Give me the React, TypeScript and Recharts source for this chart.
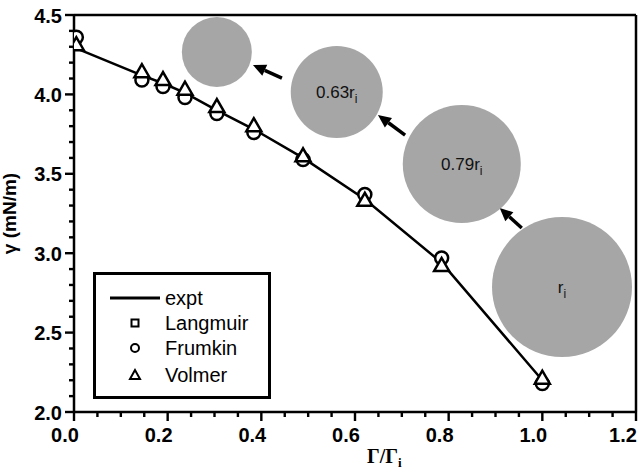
import {
  ComposedChart,
  Line,
  Scatter,
  XAxis,
  YAxis,
  ReferenceLine,
  ReferenceDot,
  Legend,
} from 'recharts';

// surface coverage Γ/Γi
const coverage = [0.005, 0.145, 0.19, 0.237, 0.305, 0.384, 0.489, 0.621, 0.785, 1.0];
// surface tension γ (mN/m)
const expt = [4.29, 4.12, 4.07, 4.01, 3.9, 3.78, 3.6, 3.34, 2.94, 2.2];
const langmuir = [4.35, 4.09, 4.05, 3.98, 3.88, 3.76, 3.59, 3.36, 2.97, 2.18];
const frumkin = [4.36, 4.09, 4.05, 3.98, 3.88, 3.76, 3.59, 3.37, 2.97, 2.18];
const volmer = [4.31, 4.14, 4.09, 4.03, 3.92, 3.8, 3.61, 3.33, 2.92, 2.21];

const xTicks = [
  0, 0.05, 0.1, 0.15, 0.2, 0.25, 0.3, 0.35, 0.4, 0.45, 0.5, 0.55, 0.6,
  0.65, 0.7, 0.75, 0.8, 0.85, 0.9, 0.95, 1.0, 1.05, 1.1, 1.15, 1.2,
];
const yTicks = [
  2.0, 2.1, 2.2, 2.3, 2.4, 2.5, 2.6, 2.7, 2.8, 2.9, 3.0, 3.1, 3.2, 3.3,
  3.4, 3.5, 3.6, 3.7, 3.8, 3.9, 4.0, 4.1, 4.2, 4.3, 4.4, 4.5,
];

// shrinking droplet sketch: centre (x, y), pixel radius, label
const bubbleX = [0.305, 0.561, 0.828, 1.042];
const bubbleY = [4.267, 4.015, 3.562, 2.787];
const bubbleR = [35, 46, 59, 70];
const bubbleLabel = ['', '0.63r', '0.79r', 'r'];

// arrows between droplets: tail -> head
const arrowTail = [
  { x: 0.444, y: 4.103 },
  { x: 0.707, y: 3.744 },
  { x: 0.956, y: 3.159 },
];
const arrowHead = [
  { x: 0.382, y: 4.185 },
  { x: 0.649, y: 3.87 },
  { x: 0.909, y: 3.285 },
];

const rows = coverage.map((x, i) => ({
  x,
  expt: expt[i],
  langmuir: langmuir[i],
  frumkin: frumkin[i],
  volmer: volmer[i],
}));

const FONT = 'Liberation Sans, Arial, sans-serif';

const isMajorX = (v: number) => Math.abs(v * 5 - Math.round(v * 5)) < 1e-6;
const isMajorY = (v: number) => Math.abs(v * 2 - Math.round(v * 2)) < 1e-6;

// tick mark drawn as a small filled rect, label for majors only
const XTick = (props: any) => {
  const { x, y, payload } = props;
  const v = Number(payload.value);
  const major = isMajorX(v);
  const last = v > 1.15;
  return (
    <g>
      <rect x={x - 1.2} y={y} width={2.4} height={major ? 9 : 5} fill="#000" />
      {major && (
        <text
          x={x - (last ? 13 : 9)}
          y={y + 30}
          textAnchor="middle"
          fontFamily={FONT}
          fontWeight="bold"
          fontSize={20}
          fill="#000"
        >
          {v.toFixed(1)}
        </text>
      )}
    </g>
  );
};

const YTick = (props: any) => {
  const { x, y, payload } = props;
  const v = Number(payload.value);
  const major = isMajorY(v);
  const len = major ? 9 : 5;
  return (
    <g>
      <rect x={x - len} y={y - 1.2} width={len} height={2.4} fill="#000" />
      {major && (
        <text x={x - 12} y={y + 7.5} textAnchor="end" fontFamily={FONT} fontWeight="bold" fontSize={20} fill="#000">
          {v.toFixed(1)}
        </text>
      )}
    </g>
  );
};

const CircleDot = (props: any) => (
  <circle cx={props.cx} cy={props.cy} r={6.5} fill="#fff" stroke="#000" strokeWidth={2.5} />
);
const SquareDot = (props: any) => (
  <rect x={props.cx - 4} y={props.cy - 4} width={8} height={8} fill="#fff" stroke="#000" strokeWidth={2} />
);
const TriangleDot = (props: any) => {
  const { cx, cy } = props;
  return (
    <polygon
      points={`${cx},${cy - 8} ${cx - 7.5},${cy + 5} ${cx + 7.5},${cy + 5}`}
      fill="#fff"
      stroke="#000"
      strokeWidth={2.5}
    />
  );
};

const Arrow = (p: any) => {
  const { x1, y1, x2, y2 } = p;
  const a = Math.atan2(y2 - y1, x2 - x1);
  const L = 13;
  const W = 6;
  const bx = x2 - L * Math.cos(a);
  const by = y2 - L * Math.sin(a);
  return (
    <g>
      <line x1={x1} y1={y1} x2={bx} y2={by} stroke="#000" strokeWidth={3.5} />
      <polygon
        points={`${x2},${y2} ${bx - W * Math.sin(a)},${by + W * Math.cos(a)} ${bx + W * Math.sin(a)},${by - W * Math.cos(a)}`}
        fill="#000"
      />
    </g>
  );
};

const bubbleText = (text: string) => (lp: any) => {
  if (!text) return null;
  const vb = lp.viewBox;
  const cx = vb.x + vb.width / 2;
  const cy = vb.y + vb.height / 2;
  return (
    <text x={cx} y={cy + 6} textAnchor="middle" fontFamily={FONT} fontSize={17} fill="#111">
      <tspan>{text}</tspan>
      <tspan dy={5} fontSize={12}>i</tspan>
    </text>
  );
};

const LegendBox = () => (
  <svg width={178} height={127} style={{ display: 'block' }}>
    <rect x={1.5} y={1.5} width={175} height={124} fill="#fff" stroke="#000" strokeWidth={3} />
    <line x1={17} x2={67} y1={26} y2={26} stroke="#000" strokeWidth={3} />
    <rect x={38.5} y={47.5} width={7} height={7} fill="#fff" stroke="#000" strokeWidth={2} />
    <circle cx={42} cy={76} r={4} fill="#fff" stroke="#000" strokeWidth={2} />
    <polygon points="42,98 37,107 47,107" fill="#fff" stroke="#000" strokeWidth={2} />
    <g fontFamily={FONT} fontSize={20} fill="#000">
      <text x={72} y={33}>expt</text>
      <text x={72} y={58}>Langmuir</text>
      <text x={72} y={83}>Frumkin</text>
      <text x={72} y={110}>Volmer</text>
    </g>
  </svg>
);

export default function App() {
  return (
    <div style={{ position: 'absolute', left: 0, top: 0, background: '#fff' }}>
      <ComposedChart
        width={639}
        height={470}
        data={rows}
        margin={{ top: 15, right: 3, bottom: 0, left: 0 }}
      >
        <XAxis
          dataKey="x"
          type="number"
          domain={[0, 1.2]}
          ticks={xTicks}
          interval={0}
          height={58}
          tickSize={0}
          tickMargin={0}
          tickLine={false}
          tick={<XTick />}
          axisLine={{ stroke: '#000', strokeWidth: 2.5 }}
          allowDataOverflow
          label={{
            content: () => (
              <text x={367} y={463} fontFamily="Liberation Serif, Times New Roman, serif" fontWeight="bold" fontSize={20} fill="#000">
                <tspan>Γ/Γ</tspan>
                <tspan dy={4} fontSize={13}>i</tspan>
              </text>
            ),
          }}
        />
        <YAxis
          type="number"
          domain={[2, 4.5]}
          ticks={yTicks}
          interval={0}
          width={74}
          tickSize={0}
          tickMargin={0}
          tickLine={false}
          tick={<YTick />}
          axisLine={{ stroke: '#000', strokeWidth: 2.5 }}
          allowDataOverflow
          label={{
            content: (lp: any) => {
              const cy = lp.viewBox.y + lp.viewBox.height / 2;
              return (
                <text
                  x={16}
                  y={cy}
                  transform={`rotate(-90, 16, ${cy})`}
                  textAnchor="middle"
                  fontFamily={FONT}
                  fontWeight="bold"
                  fontSize={19}
                  fill="#000"
                >
                  γ (mN/m)
                </text>
              );
            },
          }}
        />
        <ReferenceLine y={4.5} stroke="#000" strokeWidth={2.5} />
        <ReferenceLine x={1.2} stroke="#000" strokeWidth={2.5} />

        {bubbleX.map((bx, i) => (
          <ReferenceDot
            key={`b${i}`}
            x={bx}
            y={bubbleY[i]}
            r={bubbleR[i]}
            fill="#a6a6a6"
            stroke="none"
            label={{ content: bubbleText(bubbleLabel[i]) }}
          />
        ))}
        {arrowTail.map((t, i) => (
          <ReferenceLine key={`a${i}`} segment={[t, arrowHead[i]]} shape={<Arrow />} />
        ))}

        <Line
          dataKey="expt"
          stroke="#000"
          strokeWidth={2.5}
          dot={false}
          activeDot={false}
          isAnimationActive={false}
          name="expt"
        />
        <Scatter dataKey="langmuir" shape={<SquareDot />} isAnimationActive={false} name="Langmuir" />
        <Scatter dataKey="frumkin" shape={<CircleDot />} isAnimationActive={false} name="Frumkin" />
        <Scatter dataKey="volmer" shape={<TriangleDot />} isAnimationActive={false} name="Volmer" />

        <Legend
          layout="vertical"
          align="center"
          verticalAlign="middle"
          wrapperStyle={{ left: 93, top: 272, width: 178, height: 127 }}
          content={() => <LegendBox />}
        />
      </ComposedChart>
    </div>
  );
}
